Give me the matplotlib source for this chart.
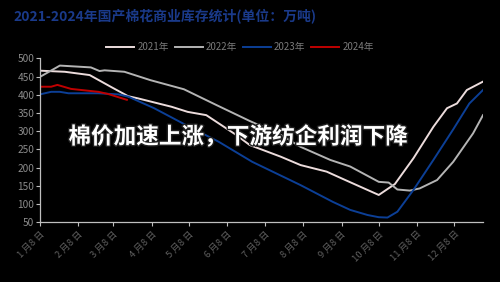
import matplotlib
matplotlib.use("Agg")
import matplotlib.pyplot as plt
import matplotlib.patheffects as pe

plt.rcParams['font.family'] = ['Noto Sans CJK SC', 'DejaVu Sans']

# day of year / inventory (10k tons)
days_2021 = [8, 28, 48, 66, 79, 87, 114, 127, 142, 166, 177, 202, 218, 239, 254, 281, 294, 309, 325, 336, 344, 352, 365]
stock_2021 = [466, 463, 454, 420, 396, 390, 367, 353, 344, 290, 262, 230, 207, 189, 166, 125, 155, 226, 312, 363, 376, 413, 436]

days_2022 = [8, 24, 49, 56, 60, 76, 97, 124, 150, 177, 202, 218, 242, 258, 281, 289, 296, 306, 314, 328, 341, 357, 365]
stock_2022 = [449, 480, 475, 465, 467, 463, 440, 415, 372, 328, 290, 257, 221, 203, 161, 159, 140, 137, 143, 166, 216, 294, 344]

days_2023 = [8, 17, 24, 31, 55, 71, 79, 100, 125, 152, 179, 218, 244, 258, 272, 281, 288, 296, 309, 325, 341, 354, 365]
stock_2023 = [401, 408, 408, 404, 404, 401, 395, 363, 318, 271, 216, 152, 106, 84, 70, 64, 63, 79, 139, 221, 305, 376, 413]

days_2024 = [8, 17, 22, 33, 44, 55, 63, 78]
stock_2024 = [422, 422, 427, 416, 412, 408, 402, 386]

tick_days = [8, 39, 67, 98, 128, 159, 189, 220, 251, 281, 312, 342]
tick_labels = [f"{m} 月8 日" for m in range(1, 13)]

fig = plt.figure(figsize=(5, 2.82), dpi=100, facecolor='black')
ax = fig.add_axes([0.08, 0.2117, 0.886, 0.5816], facecolor='black')

ax.plot(days_2021, stock_2021, color='#ecdcdc', lw=1.4, label='2021年')
ax.plot(days_2022, stock_2022, color='#b4b4b4', lw=1.4, label='2022年')
ax.plot(days_2023, stock_2023, color='#0c3f96', lw=1.4, label='2023年')
ax.plot(days_2024, stock_2024, color='#c00000', lw=1.4, label='2024年')

ax.set_xlim(8, 365)
ax.set_ylim(50, 500)
ax.set_yticks(range(50, 501, 50))
ax.set_xticks(tick_days)
ax.set_xticklabels(tick_labels, rotation=45, ha='right', va='top', rotation_mode='anchor')

for s in ['top', 'right']:
    ax.spines[s].set_visible(False)
for s in ['left', 'bottom']:
    ax.spines[s].set_color('#bfbfbf')
    ax.spines[s].set_linewidth(0.9)
ax.tick_params(axis='y', colors='#bfbfbf', labelcolor='#8c8c8c', labelsize=7.3, length=3, width=0.8, pad=1)
ax.tick_params(axis='x', colors='#bfbfbf', labelcolor='#5f5f5f', labelsize=6.8, length=3, width=0.8, pad=2)

fig.legend(loc='center', bbox_to_anchor=(0.48, 0.833), ncol=4, frameon=False,
           fontsize=7, labelcolor='#7a7a7a', handlelength=2.9, handletextpad=0.3,
           columnspacing=0.6)

fig.text(0.026, 0.943, "2021-2024年国产棉花商业库存统计(单位：万吨)", color='#1a3a8a',
         fontsize=10, fontweight='bold', ha='left', va='center')

fig.text(0.476, 0.514, "棉价加速上涨，下游纺企利润下降", color='white', fontsize=16.3,
         fontweight='bold', ha='center', va='center',
         path_effects=[pe.withStroke(linewidth=2, foreground='#202020')])

fig.savefig('out.png', dpi=100, facecolor='black')
